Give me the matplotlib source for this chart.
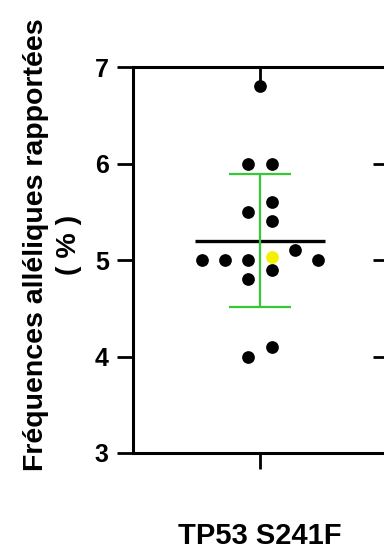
import matplotlib
matplotlib.use("Agg")
import matplotlib.pyplot as plt

# data
category = "TP53 S241F"
values = [6.8, 6.0, 6.0, 5.6, 5.5, 5.4, 5.1, 5.0, 5.0, 5.0, 5.0, 4.9, 4.8, 4.1, 4.0]
slots = [0, -0.5, 0.5, 0.5, -0.5, 0.5, 1.5, -2.5, -1.5, -0.5, 2.5, 0.5, -0.5, 0.5, -0.5]
highlight_value = 5.03
highlight_slot = 0.5
mean_value = 5.2
sd_low, sd_high = 4.51, 5.89
y_ticks = [3, 4, 5, 6, 7]

plt.rcParams['font.family'] = ['Liberation Sans', 'DejaVu Sans']
plt.rcParams['font.weight'] = 'bold'

fig = plt.figure(figsize=(3.84, 5.49), dpi=100)
ax = fig.add_axes([133/384, 1 - 453/549, 254/384, 386/549])

spacing = 0.1835
xs = [s * spacing for s in slots]
ax.scatter(xs, values, s=84, color='black', zorder=3, linewidths=0)
ax.scatter([highlight_slot * spacing], [highlight_value], s=84, color='#f5ef00',
           zorder=3, linewidths=0)

# mean and SD
ax.hlines(mean_value, -0.508, 0.508, color='black', linewidth=2.4, zorder=2)
ax.vlines(0, sd_low, sd_high, color='#36c936', linewidth=1.6, zorder=2)
ax.hlines([sd_low, sd_high], -0.248, 0.248, color='#36c936', linewidth=1.6, zorder=2)

ax.set_xlim(-1, 1)
ax.set_ylim(3, 7)
ax.set_yticks(y_ticks)
ax.set_xticks([0])
ax.set_xticklabels([category], fontsize=21, fontweight='bold')
ax.tick_params(axis='x', length=11.5, width=2, pad=38, direction='out')
ax.tick_params(axis='y', length=11.5, width=2, pad=6, labelsize=18, direction='out')

for side in ['left', 'top', 'bottom']:
    ax.spines[side].set_linewidth(2.2)
ax.spines['right'].set_visible(False)

top = ax.secondary_xaxis('top')
top.set_xticks([0])
top.set_xticklabels([])
top.tick_params(direction='in', length=11, width=2)
top.spines['top'].set_visible(False)

right = ax.secondary_yaxis('right')
right.set_yticks([4, 5, 6])
right.set_yticklabels([])
right.tick_params(direction='in', length=10, width=2)
right.spines['right'].set_visible(False)

ax.set_ylabel('Fréquences alléliques rapportées\n( % )', fontsize=20.5,
              fontweight='bold', linespacing=1.35)
ax.yaxis.set_label_coords(-0.20, 0.54)

fig.savefig('out.png', dpi=100)
